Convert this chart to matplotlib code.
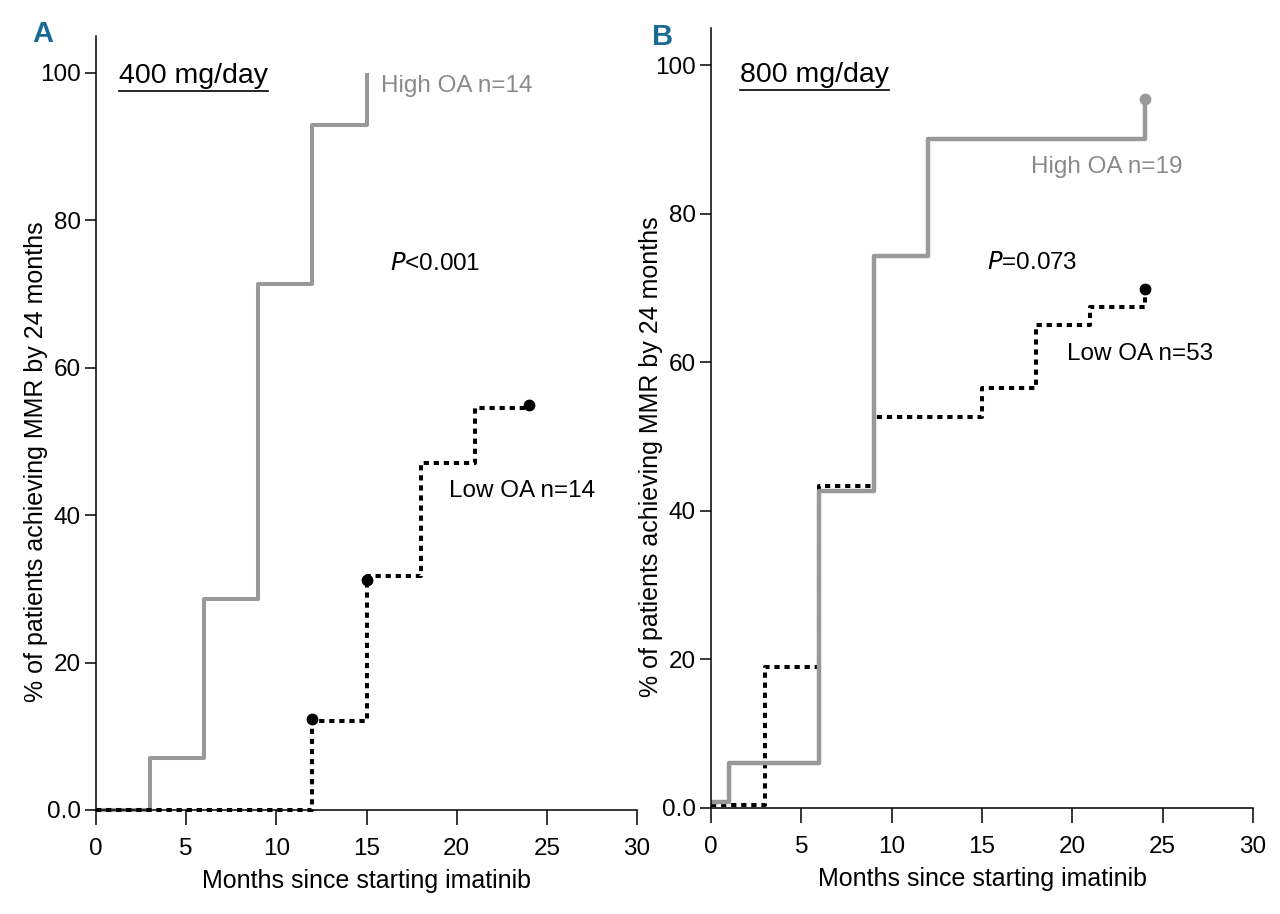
import matplotlib
matplotlib.use("Agg")
import matplotlib.pyplot as plt
from matplotlib.lines import Line2D

plt.rcParams["font.family"] = ["Liberation Sans", "DejaVu Sans"]

# -- Data ----------------------------------------------------------------------
# Panel A (400 mg/day)
a_high_t = [0, 3, 6, 9, 12, 15]
a_high_v = [0, 7.1, 28.6, 71.4, 92.9, 100]
a_low_t = [0, 12, 15, 18, 21, 24]
a_low_v = [0, 12.1, 31.7, 47.1, 54.5, 55.0]
a_low_cens_t = [12, 15, 24]
a_low_cens_v = [12.3, 31.2, 55.0]

# Panel B (800 mg/day)
b_high_t = [0, 1, 6, 9, 12, 24]
b_high_v = [0.8, 6.0, 42.7, 74.3, 90.1, 95.5]
b_high_cens_t = [24]
b_high_cens_v = [95.5]
b_low_t = [0, 3, 6, 9, 15, 18, 21, 24]
b_low_v = [0.4, 19.0, 43.4, 52.6, 56.5, 65.0, 67.5, 69.8]
b_low_cens_t = [24]
b_low_cens_v = [69.8]

x_ticks = [0, 5, 10, 15, 20, 25, 30]
y_ticks = [0, 20, 40, 60, 80, 100]
y_ticklabels = ["0.0", "20", "40", "60", "80", "100"]

GRAY = "#999999"
GRAY_TXT = "#8a8a8a"
BLUE = "#1a6a96"
DOT = (0, (1.3, 1.2))
LW = 2.9

fig = plt.figure(figsize=(12.8, 9.14), dpi=100)
ax_a = fig.add_axes([0.075, 0.1138, 0.4227, 0.8468])
ax_b = fig.add_axes([0.5555, 0.1160, 0.4234, 0.8534])


def _style(ax):
    ax.set_xlim(0, 30)
    ax.set_ylim(0, 105)
    for s in ("top", "right"):
        ax.spines[s].set_visible(False)
    for s in ("left", "bottom"):
        ax.spines[s].set_linewidth(1.1)
    ax.set_xticks(x_ticks)
    ax.set_yticks(y_ticks)
    ax.set_yticklabels(y_ticklabels)
    ax.tick_params(axis="x", length=10.5, width=1.1, pad=10, labelsize=17.5)
    ax.tick_params(axis="y", length=8, width=1.1, pad=3, labelsize=17.5)
    ax.set_xlabel("Months since starting imatinib", fontsize=18, labelpad=6)
    ax.set_ylabel("% of patients achieving MMR by 24 months", fontsize=18)
    ax.yaxis.set_label_coords(-0.088, 0.45)


# -- Panel A -------------------------------------------------------------------
_style(ax_a)
ax_a.step(a_high_t, a_high_v, where="post", color=GRAY, lw=LW, clip_on=False,
          solid_capstyle="butt")
ax_a.step(a_low_t, a_low_v, where="post", color="black", lw=LW, ls=DOT,
          clip_on=False)
ax_a.plot(a_low_cens_t, a_low_cens_v, "o", color="black", ms=7.5, clip_on=False)
t_a = ax_a.text(1.28, 98.6, "400 mg/day", fontsize=20.5, va="baseline")
ax_a.text(15.8, 97.4, "High OA n=14", fontsize=17.5, color=GRAY_TXT)
ax_a.text(16.3, 73.2, "$\\it{P}$<0.001", fontsize=17.5)
ax_a.text(19.6, 42.5, "Low OA n=14", fontsize=17.5)

# -- Panel B -------------------------------------------------------------------
_style(ax_b)
ax_b.step(b_low_t, b_low_v, where="post", color="black", lw=LW, ls=DOT,
          clip_on=False)
ax_b.step(b_high_t, b_high_v, where="post", color=GRAY, lw=LW + 0.3,
          clip_on=False, solid_capstyle="butt")
ax_b.plot(b_high_cens_t, b_high_cens_v, "o", color=GRAY, ms=7.5, clip_on=False)
ax_b.plot(b_low_cens_t, b_low_cens_v, "o", color="black", ms=7.5, clip_on=False)
t_b = ax_b.text(1.6, 97.7, "800 mg/day", fontsize=20.5, va="baseline")
ax_b.text(17.7, 85.5, "High OA n=19", fontsize=17.5, color=GRAY_TXT)
ax_b.text(15.3, 72.5, "$\\it{P}$=0.073", fontsize=17.5)
ax_b.text(19.7, 60.3, "Low OA n=53", fontsize=17.5)

# panel letters
fig.text(0.025, 0.978, "A", fontsize=21, fontweight="bold", color=BLUE,
         va="top", ha="left")
fig.text(0.509, 0.975, "B", fontsize=21, fontweight="bold", color=BLUE,
         va="top", ha="left")

# underline the dose labels, using the rendered text extent
fig.canvas.draw()
inv = fig.transFigure.inverted()
for t in (t_a, t_b):
    bb = t.get_window_extent()
    (x0, y0), (x1, _) = inv.transform([[bb.x0, bb.y0], [bb.x1, bb.y1]])
    fig.add_artist(Line2D([x0, x1], [y0 - 0.002, y0 - 0.002],
                          transform=fig.transFigure, color="black", lw=1.2))

fig.savefig("out.png", dpi=100)
